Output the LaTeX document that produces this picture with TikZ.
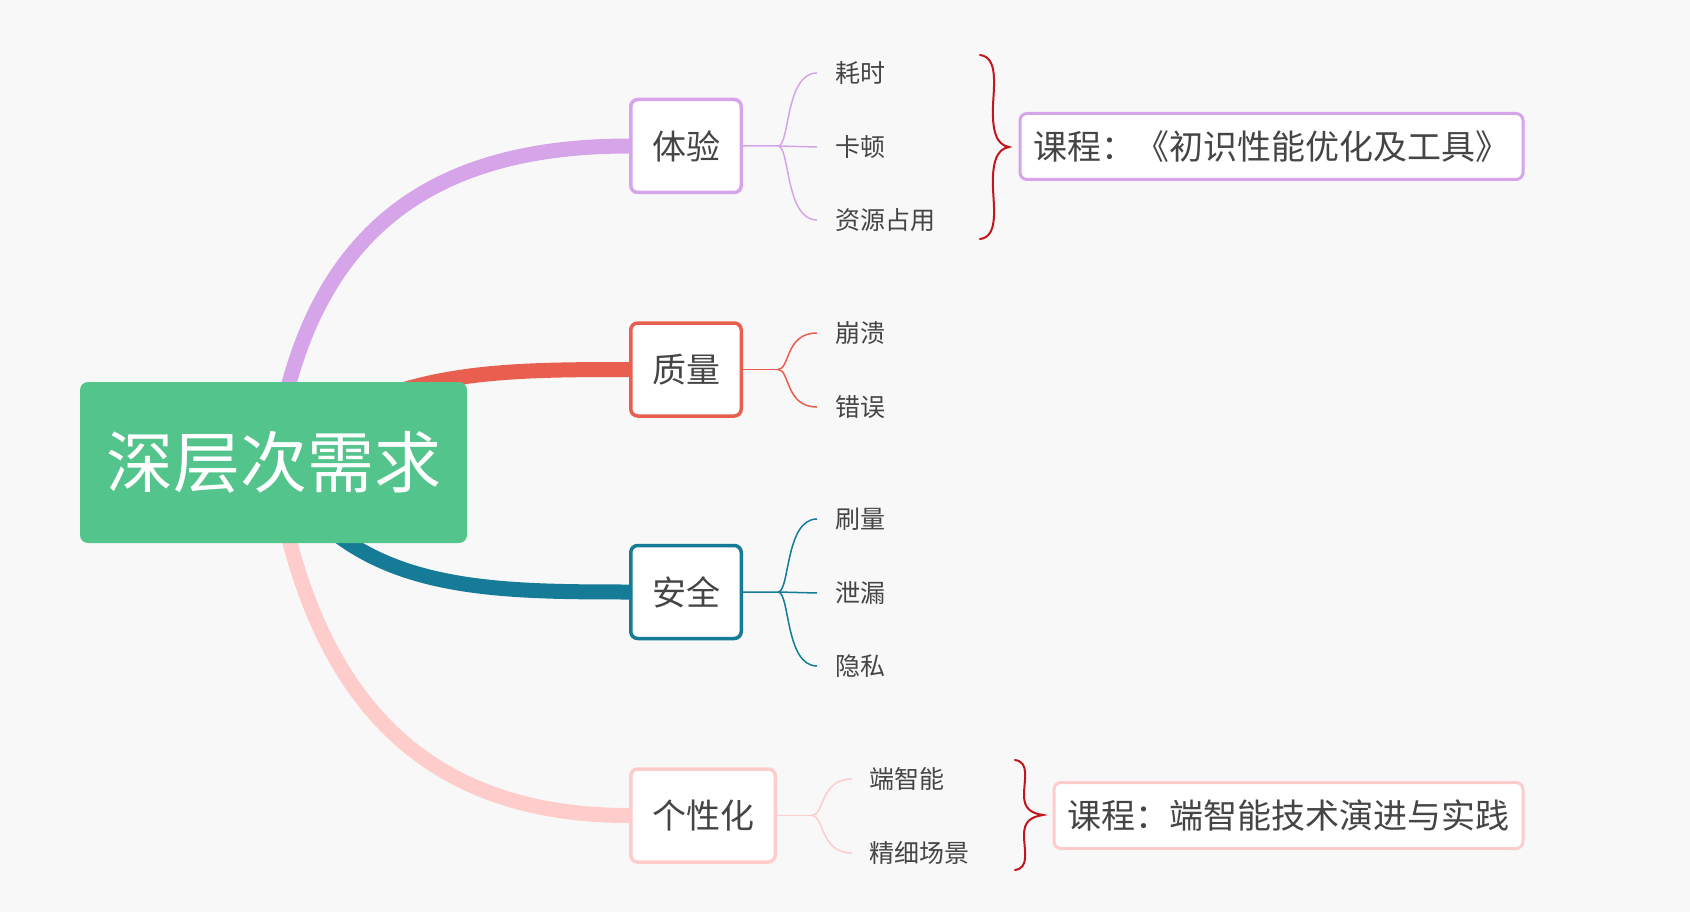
\documentclass[tikz,border=0pt]{standalone}
\usepackage{fontspec}
\setmainfont{Noto Sans CJK SC}
\usetikzlibrary{calc}
\pgfdeclarelayer{bg}
\pgfsetlayers{bg,main}
\definecolor{bgc}{HTML}{F8F8F8}
\definecolor{cgreen}{HTML}{53C48B}
\definecolor{cpurple}{HTML}{D6A5E9}
\definecolor{cred}{HTML}{E85F4F}
\definecolor{cteal}{HTML}{157B97}
\definecolor{cpink}{HTML}{FFCCCC}
\definecolor{txt}{HTML}{454545}
\definecolor{cbrace}{HTML}{C3161C}
\begin{document}
\begin{tikzpicture}[x=1pt,y=-1pt,
  rootbox/.style={rounded corners=8pt, fill=cgreen, text=white, minimum width=387pt, minimum height=161pt, inner sep=0pt, font=\fontsize{67pt}{72pt}\selectfont},
  branchbox/.style={draw, line width=3.5pt, fill=white, rounded corners=7pt, minimum height=93pt, inner sep=0pt, text=txt, font=\fontsize{34pt}{40pt}\selectfont},
  leaf/.style={anchor=west, inner xsep=18pt, inner ysep=0pt, text=txt, font=\fontsize{25pt}{30pt}\selectfont},
  coursebox/.style={draw, line width=3pt, fill=white, rounded corners=7pt, minimum height=66pt, inner xsep=13.5pt, inner ysep=0pt, anchor=west, text=txt, font=\fontsize{34pt}{40pt}\selectfont},
  mainline/.style={line width=15pt},
  subline/.style={line width=1.5pt},
  bracepath/.style={draw=cbrace, line width=2pt, line cap=round}
]
\useasboundingbox (0,0) rectangle (1690,912);
\begin{pgfonlayer}{bg}
\fill[bgc] (0,0) rectangle (1690,912);
\end{pgfonlayer}

% root
\node[rootbox] (root) at (273.5,462.5) {深层次需求};

% branches
\node[branchbox, draw=cpurple, minimum width=110.5pt] (b1) at (686,146) {体验};
\node[branchbox, draw=cred, minimum width=110.5pt] (b2) at (686,369.5) {质量};
\node[branchbox, draw=cteal, minimum width=110.5pt] (b3) at (686,592) {安全};
\node[branchbox, draw=cpink, minimum width=144.5pt] (b4) at (703,815.5) {个性化};

% main curves
\begin{pgfonlayer}{bg}
\draw[mainline, cpurple] (root.center) .. controls +(30,-230) and +(-200,0) .. (b1.west);
\draw[mainline, cred] (root.center) .. controls +(106,-91) and +(-150,0) .. (b2.west);
\draw[mainline, cteal] (root.center) .. controls +(76,127) and +(-157,0) .. (b3.west);
\draw[mainline, cpink] (root.center) .. controls +(36,235) and +(-207,0) .. (b4.west);
\end{pgfonlayer}

% leaves
\node[leaf] (l11) at (817,73) {耗时};
\node[leaf] (l12) at (817,147) {卡顿};
\node[leaf] (l13) at (817,220) {资源占用};
\node[leaf] (l21) at (817,333) {崩溃};
\node[leaf] (l22) at (817,407) {错误};
\node[leaf] (l31) at (817,519) {刷量};
\node[leaf] (l32) at (817,593) {泄漏};
\node[leaf] (l33) at (817,666) {隐私};
\node[leaf, inner xsep=17pt] (l41) at (852,779) {端智能};
\node[leaf, inner xsep=17pt] (l42) at (852,853) {精细场景};

% sub connectors
\coordinate (j1) at ($(b1.east)+(35,0)$);
\coordinate (j2) at ($(b2.east)+(35,0)$);
\coordinate (j3) at ($(b3.east)+(35,0)$);
\coordinate (j4) at ($(b4.east)+(35,0)$);
\draw[subline, cpurple] (b1.east) -- (j1) -- (l12.west);
\draw[subline, cpurple] (j1) .. controls +(12,0) and +(-32,0) .. (l11.west);
\draw[subline, cpurple] (j1) .. controls +(12,0) and +(-32,0) .. (l13.west);
\draw[subline, cred] (b2.east) -- (j2);
\draw[subline, cred] (j2) .. controls +(12,0) and +(-32,0) .. (l21.west);
\draw[subline, cred] (j2) .. controls +(12,0) and +(-32,0) .. (l22.west);
\draw[subline, cteal] (b3.east) -- (j3) -- (l32.west);
\draw[subline, cteal] (j3) .. controls +(12,0) and +(-32,0) .. (l31.west);
\draw[subline, cteal] (j3) .. controls +(12,0) and +(-32,0) .. (l33.west);
\draw[subline, cpink] (b4.east) -- (j4);
\draw[subline, cpink] (j4) .. controls +(12,0) and +(-32,0) .. (l41.west);
\draw[subline, cpink] (j4) .. controls +(12,0) and +(-32,0) .. (l42.west);

% courses
\node[coursebox, draw=cpurple] (c1) at (1018.5,146.5) {课程：《初识性能优化及工具》};
\node[coursebox, draw=cpink] (c2) at (1052.5,815.5) {课程：端智能技术演进与实践};

% braces
\path[bracepath] (980,55) .. controls (998,57) and (994,85) .. (993,105)
  .. controls (992,130) and (996,145) .. (1009,147)
  .. controls (996,149) and (992,164) .. (993,189)
  .. controls (994,209) and (998,237) .. (980,239);
\path[bracepath] (1015,760) .. controls (1030,762) and (1024,780) .. (1024,795)
  .. controls (1024,808) and (1030,813) .. (1043,815)
  .. controls (1030,817) and (1024,822) .. (1024,835)
  .. controls (1024,850) and (1030,868) .. (1015,870);
\end{tikzpicture}
\end{document}
